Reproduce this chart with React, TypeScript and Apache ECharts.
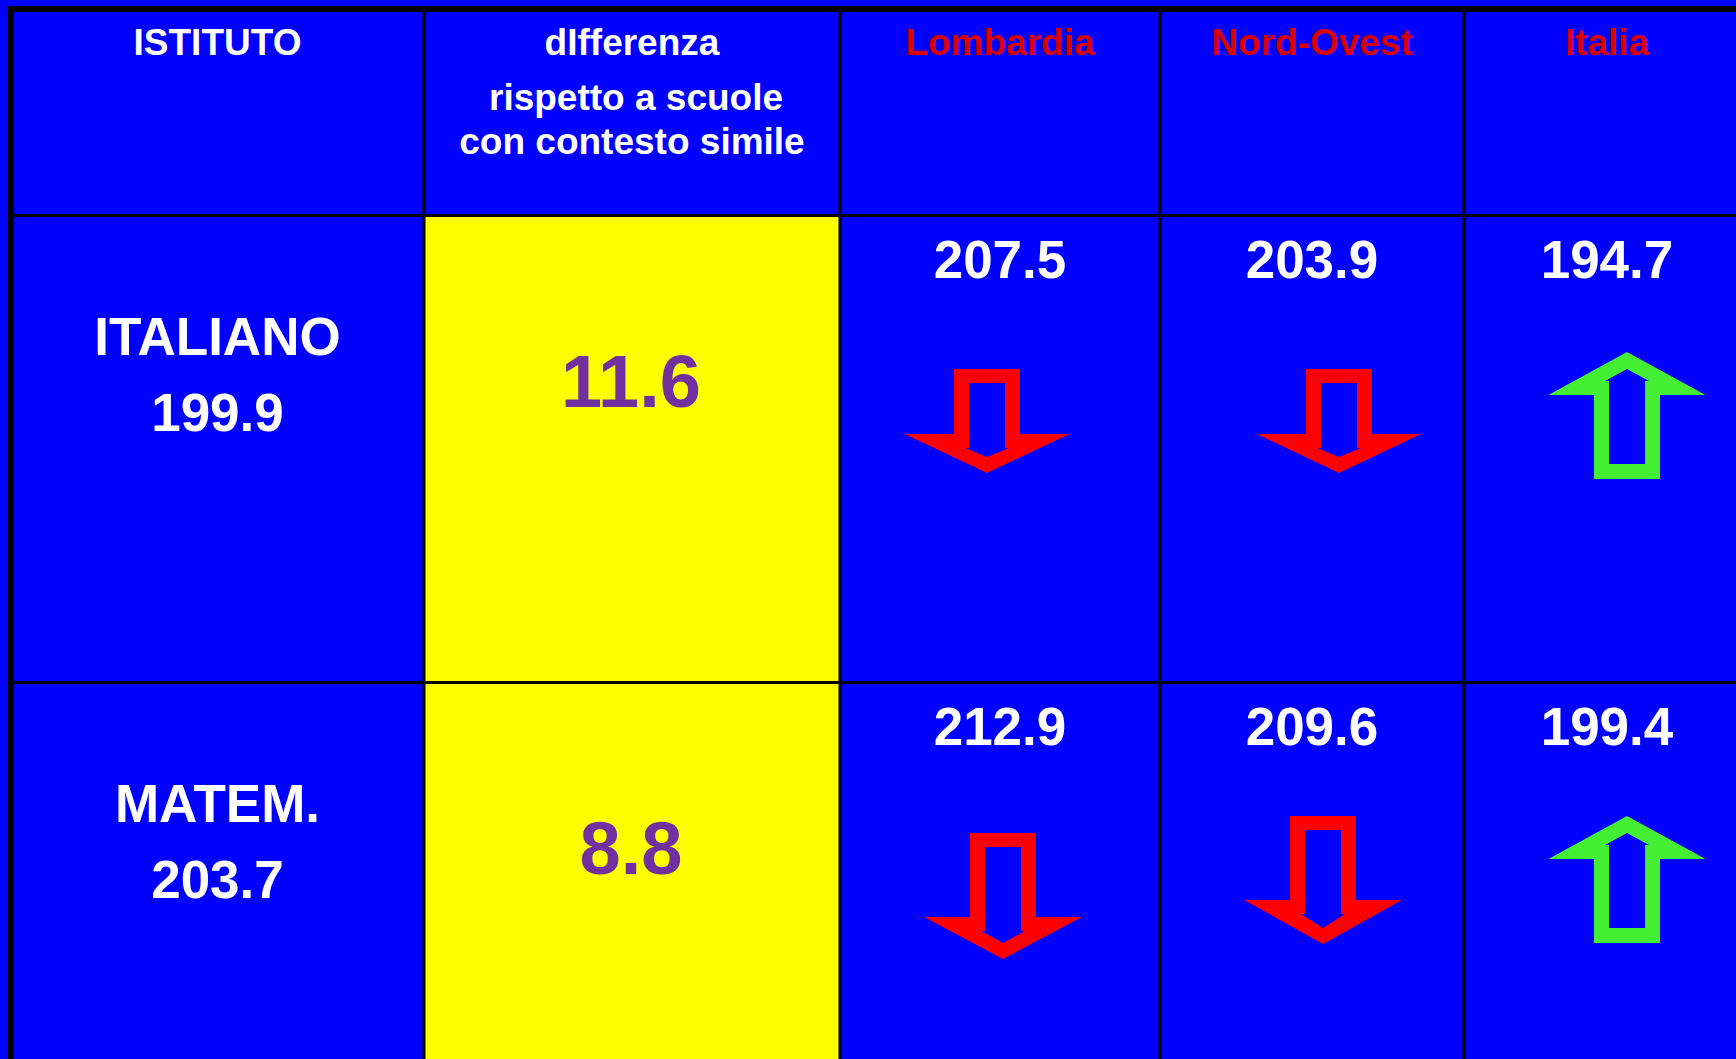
import React, { useEffect, useRef } from "react";
import * as echarts from "echarts";

// ---- data ----
const subjects = ["ITALIANO", "MATEM."];
const istitutoScores = [199.9, 203.7];
const differenze = [11.6, 8.8];
const referenceNames = ["Lombardia", "Nord-Ovest", "Italia"];
const lombardiaScores = [207.5, 212.9];
const nordOvestScores = [203.9, 209.6];
const italiaScores = [194.7, 199.4];
const headerIstituto = "ISTITUTO";
const headerDifferenza = ["dIfferenza", "rispetto a scuole", "con contesto simile"];

const referenceScores = [lombardiaScores, nordOvestScores, italiaScores];

// ---- layout (pixels on hidden value axes) ----
const W = 1736;
const H = 1059;
const COL_EDGES = [11, 424, 840, 1160, 1464, 1750];
const ROW_EDGES = [9, 215.5, 682.5, 1150];
const DIFF_HEADER_DX = [0, 4, 0];
const DIFF_HEADER_DY = [33, 88, 132];
// arrow placement per [subject][reference]
const ARROW_LAYOUT = [
  [
    { dx: -13, dy: 153.5, shaft: 65, head: 39, wing: 82.5 },
    { dx: 27, dy: 153.5, shaft: 65, head: 39, wing: 82 },
    { dx: 20, dy: 136.5, shaft: 84, head: 43, wing: 78.5 },
  ],
  [
    { dx: 3, dy: 150.5, shaft: 84, head: 42, wing: 79 },
    { dx: 11, dy: 133.5, shaft: 84, head: 44, wing: 79 },
    { dx: 20, dy: 133.5, shaft: 84, head: 43, wing: 78.5 },
  ],
];

const BLUE = "#0000FF";
const YELLOW = "#FFFF00";
const PURPLE = "#7030A0";
const HEADER_RED = "#D90000";
const ARROW_RED = "#FF0000";
const ARROW_GREEN = "#44EE33";
const WHITE = "#FFFFFF";
const FONT = '"Liberation Sans", Arial, Helvetica, sans-serif';

function arrowShapes(cx: number, top: number, a: any, down: boolean) {
  const sh = 33;
  const ih = 18;
  const ledge = 22;
  if (down) {
    const wy = top + a.shaft;
    const tip = wy + a.head;
    const outer = [
      [cx - sh, top], [cx + sh, top], [cx + sh, wy], [cx + a.wing, wy],
      [cx, tip], [cx - a.wing, wy], [cx - sh, wy],
    ];
    const inner = [
      [cx - ih, top + 14], [cx + ih, top + 14], [cx + ih, wy + 14], [cx + ledge, wy + 14],
      [cx, tip - 16], [cx - ledge, wy + 14], [cx - ih, wy + 14],
    ];
    return { outer, inner };
  }
  const wy = top + a.head;
  const bottom = wy + a.shaft;
  const outer = [
    [cx, top], [cx + a.wing, wy], [cx + sh, wy], [cx + sh, bottom],
    [cx - sh, bottom], [cx - sh, wy], [cx - a.wing, wy],
  ];
  const inner = [
    [cx, top + 17], [cx + ledge, wy - 14], [cx + ih, wy - 14], [cx + ih, bottom - 15],
    [cx - ih, bottom - 15], [cx - ih, wy - 14], [cx - ledge, wy - 14],
  ];
  return { outer, inner };
}

function txt(text: string, x: number, y: number, size: number, color: string) {
  return {
    type: "text",
    style: {
      text,
      x,
      y,
      fill: color,
      fontSize: size,
      fontWeight: "bold",
      fontFamily: FONT,
      align: "center",
      verticalAlign: "middle",
    },
  };
}

export default function App() {
  const ref = useRef<HTMLDivElement>(null);

  useEffect(() => {
    if (!ref.current) return;
    const chart = echarts.init(ref.current, null, { renderer: "svg" });

    const cells: number[][] = [];
    for (let r = 0; r < 3; r++) for (let c = 0; c < 5; c++) cells.push([c, r]);

    const renderItem = (params: any, api: any) => {
      const c = api.value(0);
      const r = api.value(1);
      const p0 = api.coord([COL_EDGES[c], ROW_EDGES[r]]);
      const p1 = api.coord([COL_EDGES[c + 1], ROW_EDGES[r + 1]]);
      const x0 = p0[0], y0 = p0[1], x1 = p1[0], y1 = p1[1];
      const cx = (x0 + x1) / 2;
      const children: any[] = [];
      const fill = c === 1 && r > 0 ? YELLOW : BLUE;
      children.push({
        type: "rect",
        shape: { x: x0, y: y0, width: x1 - x0, height: y1 - y0 },
        style: { fill },
      });
      if (r === 0) {
        if (c === 0) children.push(txt(headerIstituto, cx, y0 + 33, 37, WHITE));
        else if (c === 1)
          headerDifferenza.forEach((line, i) =>
            children.push(txt(line, cx + DIFF_HEADER_DX[i], y0 + DIFF_HEADER_DY[i], 37, WHITE))
          );
        else children.push(txt(referenceNames[c - 2], cx, y0 + 33, 37, HEADER_RED));
      } else {
        const s = r - 1;
        if (c === 0) {
          children.push(txt(subjects[s], cx, y0 + 120.5, 53, WHITE));
          children.push(txt(istitutoScores[s].toFixed(1), cx, y0 + 197, 53, WHITE));
        } else if (c === 1) {
          children.push(txt(differenze[s].toFixed(1), cx - 1, y0 + 166, 74, PURPLE));
        } else {
          const k = c - 2;
          const v = referenceScores[k][s];
          children.push(txt(v.toFixed(1), cx, y0 + 43.5, 53, WHITE));
          const down = istitutoScores[s] < v;
          const a = ARROW_LAYOUT[s][k];
          const shp = arrowShapes(cx + a.dx, y0 + a.dy, a, down);
          children.push({
            type: "polygon",
            shape: { points: shp.outer },
            style: { fill: down ? ARROW_RED : ARROW_GREEN },
          });
          children.push({
            type: "polygon",
            shape: { points: shp.inner },
            style: { fill: BLUE },
          });
        }
      }
      return { type: "group", children };
    };

    const lines: any[] = [];
    for (let i = 1; i < COL_EDGES.length - 1; i++) {
      lines.push({
        type: "line",
        shape: { x1: COL_EDGES[i], y1: ROW_EDGES[0], x2: COL_EDGES[i], y2: H },
        style: { stroke: "#000", lineWidth: 3 },
        z: 100,
      });
    }
    for (let j = 1; j < ROW_EDGES.length - 1; j++) {
      lines.push({
        type: "line",
        shape: { x1: COL_EDGES[0], y1: ROW_EDGES[j], x2: W, y2: ROW_EDGES[j] },
        style: { stroke: "#000", lineWidth: 3 },
        z: 100,
      });
    }
    lines.push({
      type: "rect",
      shape: { x: 8, y: 6, width: 6, height: H - 6 },
      style: { fill: "#000" },
      z: 101,
    });
    lines.push({
      type: "rect",
      shape: { x: 8, y: 6, width: W - 8, height: 6 },
      style: { fill: "#000" },
      z: 101,
    });

    chart.setOption({
      animation: false,
      backgroundColor: BLUE,
      grid: { left: 0, right: 0, top: 0, bottom: 0 },
      xAxis: { type: "value", min: 0, max: W, show: false },
      yAxis: { type: "value", min: 0, max: H, inverse: true, show: false },
      graphic: lines,
      series: [
        {
          type: "custom",
          silent: true,
          clip: false,
          renderItem,
          data: cells,
        },
      ],
    });

    return () => chart.dispose();
  }, []);

  return (
    <div
      ref={ref}
      style={{ position: "fixed", left: 0, top: 0, width: W, height: H }}
    />
  );
}
